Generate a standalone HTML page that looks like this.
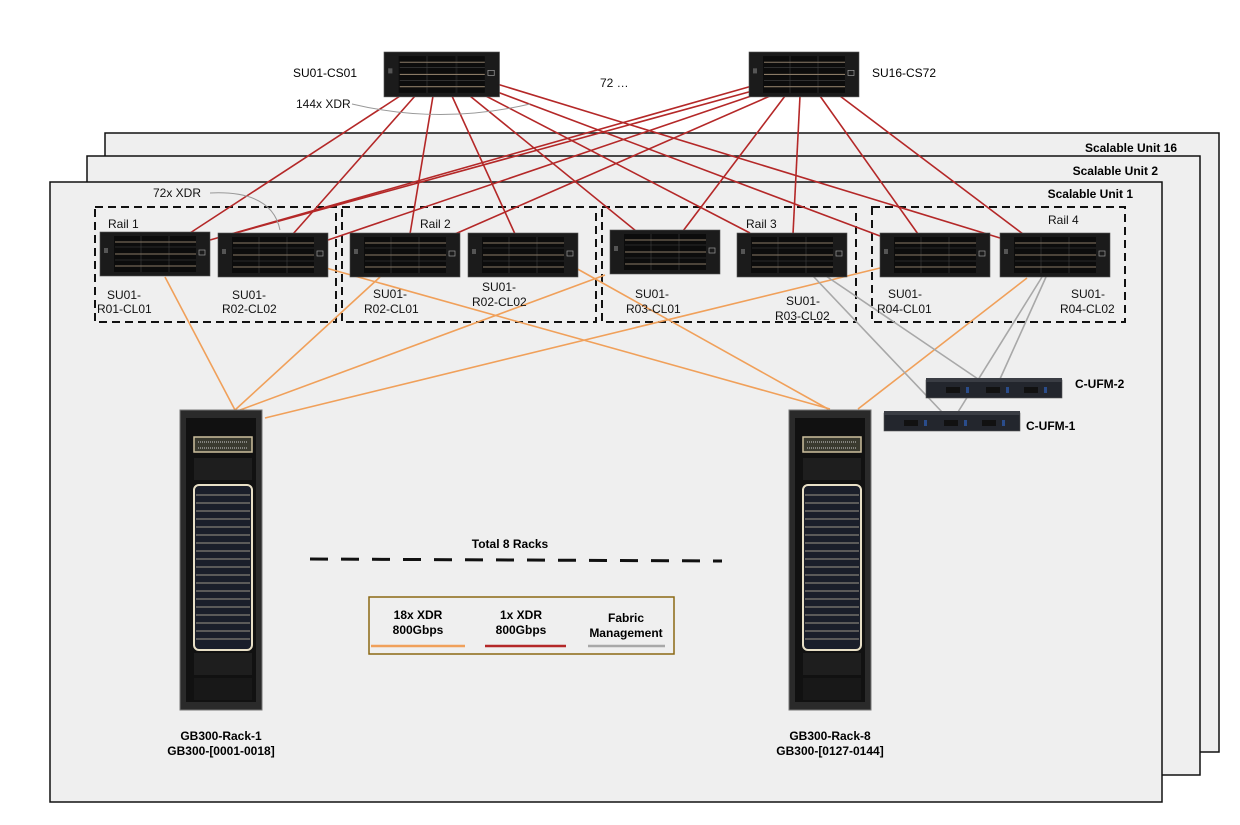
<!DOCTYPE html>
<html><head><meta charset="utf-8"><style>
body{margin:0;background:#fff;}
svg{display:block;font-family:"Liberation Sans",Arial,sans-serif;}
</style></head><body>
<svg width="1240" height="825" viewBox="0 0 1240 825" xmlns="http://www.w3.org/2000/svg">
<defs>
<g id="sw">
<rect x="0" y="0" width="110" height="44" fill="#1b1b1b" stroke="#555" stroke-width="0.6"/>
<rect x="14" y="4" width="26" height="36" fill="#0c0c0c"/>
<rect x="42" y="4" width="26" height="36" fill="#0c0c0c"/>
<rect x="70" y="4" width="26" height="36" fill="#0c0c0c"/>
<g stroke="#8a7a66" stroke-width="1">
<line x1="15" y1="10" x2="96" y2="10"/><line x1="15" y1="22" x2="96" y2="22"/><line x1="15" y1="34" x2="96" y2="34"/>
</g>
<g stroke="#444" stroke-width="0.6">
<line x1="15" y1="15" x2="96" y2="15"/><line x1="15" y1="28" x2="96" y2="28"/>
</g>
<rect x="4" y="16" width="4" height="5" fill="#555"/>
<rect x="99" y="18" width="6" height="5" fill="none" stroke="#999" stroke-width="0.7"/>
</g>
<g id="rack">
<rect x="0" y="0" width="82" height="300" fill="#2a2a2a" stroke="#777" stroke-width="1"/>
<rect x="6" y="8" width="70" height="284" fill="#111"/>
<rect x="14" y="27" width="58" height="15" fill="#3a3a2f" stroke="#cdbf9e" stroke-width="1.5"/>
<line x1="18" y1="32" x2="68" y2="32" stroke="#ccc" stroke-dasharray="1 1"/>
<line x1="18" y1="38" x2="68" y2="38" stroke="#ccc" stroke-dasharray="1 1"/>
<rect x="14" y="48" width="58" height="22" fill="#1e1e1e"/>
<rect x="14" y="75" width="58" height="165" rx="5" fill="#1a1e2a" stroke="#e8dfc6" stroke-width="2"/>
<g stroke="#c9bfa8" stroke-width="0.8">
<line x1="16" y1="85" x2="70" y2="85"/><line x1="16" y1="93" x2="70" y2="93"/><line x1="16" y1="101" x2="70" y2="101"/><line x1="16" y1="109" x2="70" y2="109"/><line x1="16" y1="117" x2="70" y2="117"/><line x1="16" y1="125" x2="70" y2="125"/><line x1="16" y1="133" x2="70" y2="133"/><line x1="16" y1="141" x2="70" y2="141"/><line x1="16" y1="149" x2="70" y2="149"/><line x1="16" y1="157" x2="70" y2="157"/><line x1="16" y1="165" x2="70" y2="165"/><line x1="16" y1="173" x2="70" y2="173"/><line x1="16" y1="181" x2="70" y2="181"/><line x1="16" y1="189" x2="70" y2="189"/><line x1="16" y1="197" x2="70" y2="197"/><line x1="16" y1="205" x2="70" y2="205"/><line x1="16" y1="213" x2="70" y2="213"/><line x1="16" y1="221" x2="70" y2="221"/><line x1="16" y1="229" x2="70" y2="229"/>
</g>
<rect x="14" y="243" width="58" height="22" fill="#1e1e1e"/>
<rect x="14" y="268" width="58" height="22" fill="#181818"/>
</g>
<g id="ufm">
<rect x="0" y="2" width="136" height="18" fill="#23262d" stroke="#555" stroke-width="0.6"/>
<rect x="0" y="0" width="136" height="4" fill="#3a3d44"/>
<rect x="20" y="9" width="14" height="6" fill="#111"/><rect x="60" y="9" width="14" height="6" fill="#111"/><rect x="98" y="9" width="14" height="6" fill="#111"/>
<rect x="40" y="9" width="3" height="6" fill="#2a4c8a"/><rect x="80" y="9" width="3" height="6" fill="#2a4c8a"/><rect x="118" y="9" width="3" height="6" fill="#2a4c8a"/>
</g>
</defs>
<rect width="1240" height="825" fill="#fff"/>
<!-- panels -->
<rect x="105" y="133" width="1114" height="619" fill="#efefef" stroke="#111" stroke-width="1.5"/>
<text x="1177" y="152" font-size="12" font-weight="bold" text-anchor="end">Scalable Unit 16</text>
<rect x="87" y="156" width="1113" height="619" fill="#efefef" stroke="#111" stroke-width="1.5"/>
<text x="1158" y="175" font-size="12" font-weight="bold" text-anchor="end">Scalable Unit 2</text>
<rect x="50" y="182" width="1112" height="620" fill="#efefef" stroke="#111" stroke-width="1.5"/>
<text x="1133" y="198" font-size="12" font-weight="bold" text-anchor="end">Scalable Unit 1</text>

<!-- rail boxes -->
<g fill="none" stroke="#111" stroke-width="2" stroke-dasharray="8 5">
<rect x="95" y="207" width="241" height="115"/>
<rect x="342" y="207" width="254" height="115"/>
<rect x="602" y="207" width="254" height="115"/>
<rect x="872" y="207" width="253" height="115"/>
</g>

<!-- orange lines -->
<g stroke="#f0a05a" stroke-width="1.6" fill="none">
<line x1="165" y1="277" x2="235" y2="410"/>
<line x1="380" y1="277" x2="235" y2="410"/>
<line x1="605" y1="275" x2="240" y2="410"/>
<line x1="880" y1="268" x2="265" y2="418"/>
<line x1="326" y1="268" x2="830" y2="409"/>
<line x1="565" y1="262" x2="828" y2="409"/>
<line x1="1027" y1="278" x2="858" y2="409"/>
</g>
<!-- gray lines -->
<g stroke="#a8a8a8" stroke-width="1.6">
<line x1="813" y1="276" x2="942" y2="412"/>
<line x1="826" y1="276" x2="978" y2="379"/>
<line x1="1042" y1="277" x2="958" y2="412"/>
<line x1="1046" y1="277" x2="1000" y2="379"/>
</g>
<!-- red lines -->
<g stroke="#b42828" stroke-width="1.6">
<line x1="400" y1="96" x2="190" y2="233"/>
<line x1="415" y1="96" x2="293" y2="234"/>
<line x1="433" y1="96" x2="410" y2="234"/>
<line x1="452" y1="96" x2="515" y2="234"/>
<line x1="470" y1="96" x2="636" y2="231"/>
<line x1="482" y1="94" x2="750" y2="233"/>
<line x1="492" y1="90" x2="880" y2="236"/>
<line x1="497" y1="84" x2="1000" y2="238"/>
<line x1="752" y1="86" x2="210" y2="240"/>
<line x1="756" y1="90" x2="232" y2="234"/>
<line x1="760" y1="93" x2="328" y2="240"/>
<line x1="770" y1="96" x2="455" y2="234"/>
<line x1="785" y1="96" x2="683" y2="231"/>
<line x1="800" y1="96" x2="793" y2="234"/>
<line x1="820" y1="96" x2="918" y2="234"/>
<line x1="840" y1="96" x2="1023" y2="234"/>
</g>

<!-- annotation curves -->
<path d="M352 104 Q440 125 530 104" fill="none" stroke="#999" stroke-width="1"/>
<text x="296" y="108" font-size="12" fill="#111">144x XDR</text>
<path d="M210 193 Q272 190 280 230" fill="none" stroke="#999" stroke-width="1"/>
<text x="153" y="197" font-size="12" fill="#111">72x XDR</text>
<text x="600" y="87" font-size="12" fill="#111">72 …</text>

<!-- spine switches -->
<use href="#sw" transform="translate(384,52) scale(1.05,1.02)"/>
<use href="#sw" transform="translate(749,52) scale(1.0,1.02)"/>
<text x="357" y="77" font-size="12" text-anchor="end">SU01-CS01</text>
<text x="872" y="77" font-size="12">SU16-CS72</text>

<!-- leaf switches -->
<use href="#sw" x="100" y="232"/>
<use href="#sw" x="218" y="233"/>
<use href="#sw" x="350" y="233"/>
<use href="#sw" x="468" y="233"/>
<use href="#sw" x="610" y="230"/>
<use href="#sw" x="737" y="233"/>
<use href="#sw" x="880" y="233"/>
<use href="#sw" x="1000" y="233"/>

<g font-size="12" fill="#111">
<text x="108" y="228">Rail 1</text>
<text x="420" y="228">Rail 2</text>
<text x="746" y="228">Rail 3</text>
<text x="1048" y="224">Rail 4</text>
<text x="107" y="299">SU01-</text><text x="97" y="313">R01-CL01</text>
<text x="232" y="299">SU01-</text><text x="222" y="313">R02-CL02</text>
<text x="373" y="298">SU01-</text><text x="364" y="313">R02-CL01</text>
<text x="482" y="291">SU01-</text><text x="472" y="306">R02-CL02</text>
<text x="635" y="298">SU01-</text><text x="626" y="313">R03-CL01</text>
<text x="786" y="305">SU01-</text><text x="775" y="320">R03-CL02</text>
<text x="888" y="298">SU01-</text><text x="877" y="313">R04-CL01</text>
<text x="1071" y="298">SU01-</text><text x="1060" y="313">R04-CL02</text>
</g>

<!-- UFMs -->
<use href="#ufm" x="926" y="378"/>
<use href="#ufm" x="884" y="411"/>
<text x="1075" y="388" font-size="12" font-weight="bold">C-UFM-2</text>
<text x="1026" y="430" font-size="12" font-weight="bold">C-UFM-1</text>

<!-- racks -->
<use href="#rack" x="180" y="410"/>
<use href="#rack" x="789" y="410"/>
<g font-size="12" font-weight="bold" text-anchor="middle">
<text x="221" y="740">GB300-Rack-1</text>
<text x="221" y="755">GB300-[0001-0018]</text>
<text x="830" y="740">GB300-Rack-8</text>
<text x="830" y="755">GB300-[0127-0144]</text>
</g>

<line x1="310" y1="559" x2="722" y2="561" stroke="#111" stroke-width="3" stroke-dasharray="18 13"/>
<text x="510" y="548" font-size="12" font-weight="bold" text-anchor="middle">Total 8 Racks</text>

<!-- legend -->
<rect x="369" y="597" width="305" height="57" fill="#efefef" stroke="#8b6914" stroke-width="1.5"/>
<g font-size="12" font-weight="bold" text-anchor="middle">
<text x="418" y="619">18x XDR</text><text x="418" y="634">800Gbps</text>
<text x="521" y="619">1x XDR</text><text x="521" y="634">800Gbps</text>
<text x="626" y="622">Fabric</text><text x="626" y="637">Management</text>
</g>
<line x1="371" y1="646" x2="465" y2="646" stroke="#f0a05a" stroke-width="2.5"/>
<line x1="485" y1="646" x2="566" y2="646" stroke="#b42828" stroke-width="2.5"/>
<line x1="588" y1="646" x2="665" y2="646" stroke="#a8a8a8" stroke-width="2.5"/>
</svg>
</body></html>
